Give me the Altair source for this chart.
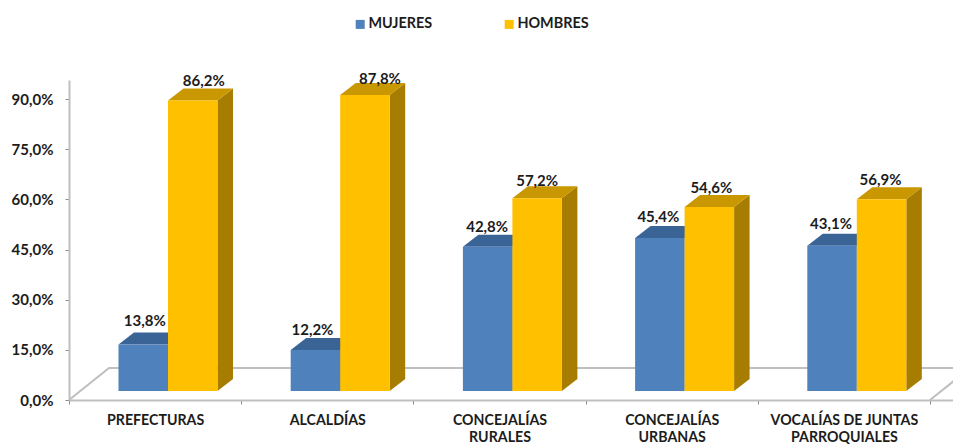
import altair as alt
import pandas as pd

categories = ["PREFECTURAS", "ALCALDÍAS", "CONCEJALÍAS\nRURALES", "CONCEJALÍAS\nURBANAS", "VOCALÍAS DE JUNTAS\nPARROQUIALES"]
mujeres = [13.8, 12.2, 42.8, 45.4, 43.1]
hombres = [86.2, 87.8, 57.2, 54.6, 56.9]
series_names = ["MUJERES", "HOMBRES"]
y_ticks = [0, 15, 30, 45, 60, 75, 90]

FONT = "Lato"
INK = "#1c1c1c"
GREY = "#bfbfbf"
PX_X = 172.2          # pixels per category
PX_Y = 3.344          # pixels per percent
W, H = 884, 320
BASE = 9 / PX_Y       # front face foot above the floor edge
SCALE = 1.008
DX, DY = 15.5 / PX_X, 12 / PX_Y
X0, BW = 49.5 / PX_X, 49.5 / PX_X

front, faces, labels = [], [], []
styles = {"MUJERES": ("#4f81bd", "#3a6496", "#3a6496"), "HOMBRES": ("#ffc000", "#c99700", "#a67d00")}
nudge_x = {"MUJERES": [1.5, -3, -0.5, -1.5, -1], "HOMBRES": [11, 15, 0, 2, -1]}
nudge_y = {"MUJERES": [23, 19.5, 20, 21, 22], "HOMBRES": [19, 16, 17, 19, 19]}
for s, (name, vals) in enumerate(zip(series_names, [mujeres, hombres])):
    col_f, col_t, col_s = styles[name]
    for i, v in enumerate(vals):
        l = i + X0 + s * BW
        r = l + BW
        t = BASE + v * SCALE
        front.append({"x": l, "x2": r, "y": BASE, "y2": t, "serie": name})
        fid = f"{name}{i}"
        for x, a, b in [(r, BASE, t), (r + DX, BASE + DY, t + DY)]:
            faces.append({"face": fid + "s", "x": x, "y": a, "y2": b, "fill": col_s})
        for x, a, b in [(l, t, t), (l + DX, t, t + DY), (r, t, t + DY), (r + DX, t + DY, t + DY)]:
            faces.append({"face": fid + "t", "x": x, "y": a, "y2": b, "fill": col_t})
        labels.append({
            "x": (l + r) / 2 + nudge_x[name][i] / PX_X,
            "y": t + nudge_y[name][i] / PX_Y,
            "text": f"{v:.1f}%".replace(".", ","),
        })

xs = alt.Scale(domain=[0, W / PX_X], nice=False, zero=False)
ys = alt.Scale(domain=[0, H / PX_Y], nice=False, zero=False)
X_AXIS = alt.Axis(values=[0, 1, 2, 3, 4, 5], labels=False, title=None, grid=False,
                  domainColor=GREY, domainWidth=2, tickColor="#8c8c8c", tickSize=4, tickWidth=1)
Y_AXIS = alt.Axis(values=y_ticks, labelExpr="replace(format(datum.value, '.1f'), '.', ',') + '%'",
                  title=None, grid=False, domainColor=GREY, domainWidth=2, tickColor="#8c8c8c",
                  tickSize=4, tickWidth=1, labelPadding=12, labelFont=FONT, labelFontWeight="bold",
                  labelFontSize=15, labelColor=INK)
EX = alt.X("x:Q", scale=xs, axis=X_AXIS)
EY = alt.Y("y:Q", scale=ys, axis=Y_AXIS, stack=None)

floor_back = pd.DataFrame({
    "x": [0, 40 / PX_X, 5 + 40 / PX_X, 5],
    "y": [0, 32 / PX_Y, 32 / PX_Y, 0],
    "o": [0, 1, 2, 3],
})
floor = alt.Chart(floor_back).mark_line(color=GREY, strokeWidth=2, clip=True).encode(
    x=EX, y=EY, order=alt.Order("o:Q"))

faces_df = pd.DataFrame(faces)
face_layers = [
    alt.Chart(faces_df[faces_df["fill"] == c]).mark_area(orient="vertical", color=c).encode(
        x=EX, y=EY, y2="y2:Q", detail="face:N")
    for c in sorted(set(faces_df["fill"]))
]

bars = alt.Chart(pd.DataFrame(front)).mark_bar().encode(
    x=EX, x2="x2:Q", y=EY, y2="y2:Q",
    color=alt.Color("serie:N", scale=alt.Scale(domain=series_names, range=["#4f81bd", "#ffc000"]),
                    legend=alt.Legend(
                        title=None, orient="none", direction="horizontal", legendX=284, legendY=-63,
                        symbolType="square", symbolSize=81, symbolStrokeWidth=0, labelFont=FONT,
                        labelFontWeight="bold", labelFontSize=14.4, labelColor=INK, columnPadding=69,
                        labelOffset=1, padding=0)),
)

value_labels = alt.Chart(pd.DataFrame(labels)).mark_text(
    font=FONT, fontWeight="bold", fontSize=15, color=INK).encode(x=EX, y=EY, text="text:N")

cat_df = pd.DataFrame({"x": [i + 0.5 + 0.5 / PX_X for i in range(5)], "text": categories})
cat_labels = alt.Chart(cat_df).mark_text(
    font=FONT, fontWeight="bold", fontSize=14.2, color=INK, lineBreak="\n", baseline="top", lineHeight=17).encode(
    x=EX, y=alt.value(H + 14), text="text:N")

chart = alt.layer(floor, *face_layers, bars, value_labels, cat_labels).properties(
    width=W, height=H, padding={"left": 61, "top": 72, "right": 0, "bottom": 48},
    autosize=alt.AutoSizeParams(type="none"), background="white",
).configure_view(stroke=None)

chart.save("out.html", embed_options={"renderer": "svg", "actions": False})
